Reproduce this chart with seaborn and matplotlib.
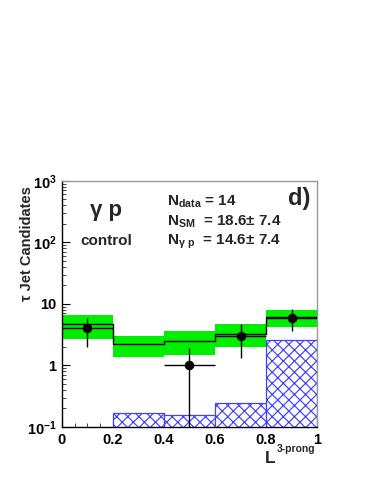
import numpy as np
import pandas as pd
import matplotlib
matplotlib.use("Agg")
import matplotlib.pyplot as plt
import matplotlib.ticker as mticker
import seaborn as sns

# ---- data ----
edges = [0.0, 0.2, 0.4, 0.6, 0.8, 1.0]
centers = [0.1, 0.3, 0.5, 0.7, 0.9]
sm_total = [4.64, 2.22, 2.51, 3.23, 6.10]
sm_low = [2.74, 1.35, 1.47, 2.01, 4.14]
sm_high = [6.58, 3.03, 3.61, 4.70, 7.94]
other_bkg = [0.0, 0.169, 0.158, 0.245, 2.58]
data_x = [0.1, 0.5, 0.7, 0.9]
data_y = [4.0, 1.0, 3.0, 6.0]
data_lo = [2.02, 0.001, 1.31, 3.6]
data_hi = [5.9, 1.94, 4.78, 8.3]
ytick_vals = [0.1, 1, 10, 100, 1000]
ytick_labels = [r"$10^{-1}$", "1", "10", r"$10^{2}$", r"$10^{3}$"]
xtick_vals = [0, 0.2, 0.4, 0.6, 0.8, 1.0]
xtick_labels = ["0", "0.2", "0.4", "0.6", "0.8", "1"]

sns.set_theme(style="ticks")
plt.rcParams["font.family"] = ["Liberation Sans", "DejaVu Sans"]
plt.rcParams["font.weight"] = "bold"
plt.rcParams["mathtext.fontset"] = "custom"
plt.rcParams["mathtext.rm"] = "Liberation Sans:bold"
plt.rcParams["mathtext.bf"] = "Liberation Sans:bold"
plt.rcParams["mathtext.it"] = "Liberation Sans:bold"
plt.rcParams["mathtext.default"] = "rm"
plt.rcParams["hatch.color"] = "#2a2aff"
plt.rcParams["hatch.linewidth"] = 0.85

fig = plt.figure(figsize=(3.82, 4.94), dpi=100)
ax = fig.add_axes([0.162, 0.1356, 0.668, 0.4984])
ax.set_yscale("log")

df_sm = pd.DataFrame({"x": centers, "sm": sm_total, "lo": sm_low, "hi": sm_high,
                      "other": other_bkg})

# green uncertainty band
ax.bar(df_sm["x"], df_sm["hi"] - df_sm["lo"], bottom=df_sm["lo"], width=0.2,
       color="#00ee00", linewidth=0, zorder=1)

# hatched other background
sns.histplot(data=df_sm, x="x", weights="other", bins=edges, ax=ax,
             element="bars", fill=True, facecolor="white", edgecolor="#4040ff",
             hatch="xxx", linewidth=0.9, zorder=2)

# SM total line
sns.histplot(data=df_sm, x="x", weights="sm", bins=edges, ax=ax,
             element="step", fill=False, color="black", linewidth=1.0, zorder=3)

# data points
df_d = pd.DataFrame({"x": data_x, "y": data_y, "lo": data_lo, "hi": data_hi})
ax.errorbar(df_d["x"], df_d["y"], xerr=0.1,
            yerr=[df_d["y"] - df_d["lo"], df_d["hi"] - df_d["y"]],
            fmt="none", ecolor="black", elinewidth=1.0, capsize=0, zorder=4)
sns.scatterplot(data=df_d, x="x", y="y", ax=ax, color="black", s=40,
                edgecolor="black", zorder=5)

ax.set_xlim(0, 1)
ax.set_ylim(0.1, 1000)
ax.set_xticks(xtick_vals)
ax.set_xticklabels(xtick_labels)
ax.xaxis.set_minor_locator(mticker.MultipleLocator(0.05))
ax.set_yticks(ytick_vals)
ax.set_yticklabels(ytick_labels)
ax.yaxis.set_minor_locator(mticker.LogLocator(base=10, subs=np.arange(2, 10)))
ax.yaxis.set_minor_formatter(mticker.NullFormatter())
ax.tick_params(axis="both", which="major", direction="in", length=6, width=0.8,
               labelsize=10.5, pad=4, colors="black")
ax.tick_params(axis="both", which="minor", direction="in", length=3, width=0.6)
ax.tick_params(axis="y", which="major", pad=4)
for lab in ax.get_xticklabels() + ax.get_yticklabels():
    lab.set_fontweight("bold")
ax.set_xlabel("")
ax.set_ylabel("")
for s in ["left", "bottom"]:
    ax.spines[s].set_color("black")
    ax.spines[s].set_linewidth(1.0)
for s in ["top", "right"]:
    ax.spines[s].set_visible(True)
    ax.spines[s].set_color("#999999")
    ax.spines[s].set_linewidth(1.0)

H = 494.0
W = 382.0
def fx(px): return px / W
def fy(py): return 1 - py / H

fig.text(fx(27), fy(244), "τ Jet Candidates", rotation=90, ha="center", va="center",
         fontsize=10.5, fontweight="bold")
fig.text(fx(106), fy(210), "γ p", ha="center", va="center", fontsize=16,
         fontweight="bold")
fig.text(fx(106), fy(241), "control", ha="center", va="center", fontsize=11,
         fontweight="bold")
fig.text(fx(167), fy(206), r"N$_{\rm data}$ = 14", ha="left", va="baseline",
         fontsize=11, fontweight="bold")
fig.text(fx(167), fy(226), r"N$_{\rm SM}$  = 18.6± 7.4", ha="left", va="baseline",
         fontsize=11, fontweight="bold")
fig.text(fx(167), fy(245), r"N$_{\gamma\ \rm p}$  = 14.6± 7.4", ha="left", va="baseline",
         fontsize=11, fontweight="bold")
fig.text(fx(299), fy(199), "d)", ha="center", va="center", fontsize=17,
         fontweight="bold")
fig.text(fx(265), fy(463), "L", ha="left", va="baseline", fontsize=12.5,
         fontweight="bold")
fig.text(fx(277), fy(452), "3-prong", ha="left", va="baseline", fontsize=7.5,
         fontweight="bold")

fig.savefig("out.png", dpi=100)
